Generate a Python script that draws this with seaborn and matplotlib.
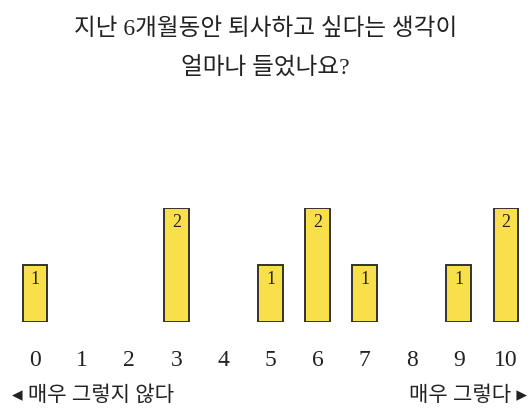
import matplotlib
matplotlib.use("Agg")
import matplotlib.pyplot as plt
import pandas as pd
import seaborn as sns

SCORES = [0, 1, 2, 3, 4, 5, 6, 7, 8, 9, 10]
COUNTS = [1, 0, 0, 2, 0, 1, 2, 1, 0, 1, 2]
TITLE = "지난 6개월동안 퇴사하고 싶다는 생각이\n얼마나 들었나요?"
LEFT_NOTE = "◂ 매우 그렇지 않다"
RIGHT_NOTE = "매우 그렇다 ▸"

FONTS = ["Liberation Serif", "Noto Sans CJK KR", "DejaVu Sans"]

sns.set_theme(style="white")
plt.rcParams["font.family"] = FONTS

df = pd.DataFrame({"score": SCORES, "count": COUNTS})

fig = plt.figure(figsize=(5.31, 4.08), dpi=100)
W, H = 531, 408
ax = fig.add_axes([0, 86 / H, 1, 114 / H])
sns.barplot(
    data=df, x="score", y="count", order=SCORES,
    color="#F9E04B", saturation=1, width=0.53,
    edgecolor="#333333", linewidth=1.4, ax=ax,
)
# hide the empty categories entirely
for patch, c in zip(ax.patches, COUNTS):
    if c == 0:
        patch.set_visible(False)
ax.set_xlim(-35 / 47.1, (W - 35) / 47.1)
ax.set_ylim(0, 2)
ax.axis("off")

for i, c in enumerate(COUNTS):
    if c > 0:
        ax.text(i, c - 0.25, str(c), ha="center", va="center", fontsize=13, color="#222222")
    ax.text(i, -0.68, str(SCORES[i]), ha="center", va="center", fontsize=17, color="#222222")

fig.text(0.5, 1 - 49 / H, TITLE, ha="center", va="center", fontsize=17,
         linespacing=2.0, color="#222222")
fig.text(12 / W, 1 - 396 / H, LEFT_NOTE, ha="left", va="center", fontsize=15.2, color="#222222")
fig.text(527 / W, 1 - 396 / H, RIGHT_NOTE, ha="right", va="center", fontsize=15.2, color="#222222")

fig.savefig("out.png", dpi=100)
